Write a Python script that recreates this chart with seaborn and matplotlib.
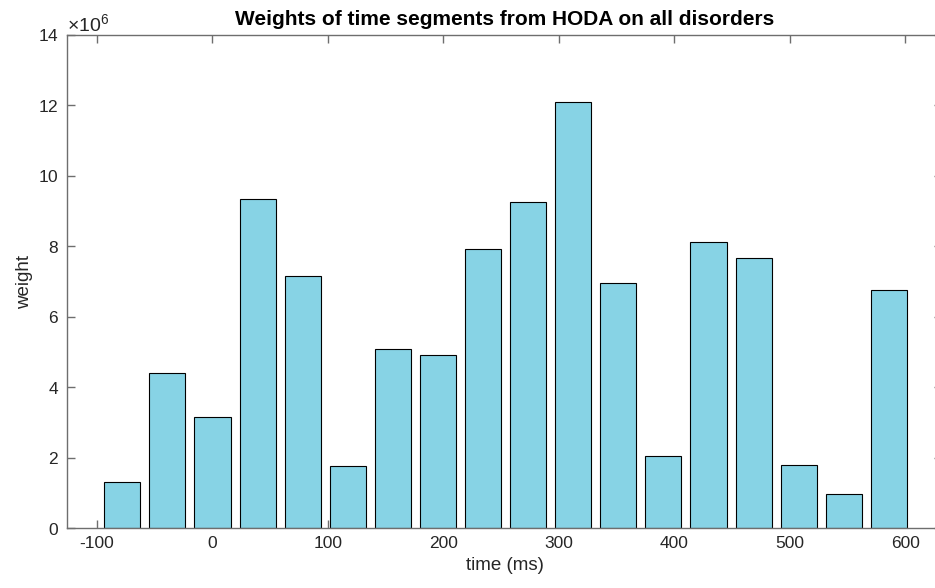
import numpy as np
import pandas as pd
import matplotlib
matplotlib.use("Agg")
import matplotlib.pyplot as plt
from matplotlib.ticker import ScalarFormatter
import seaborn as sns

# Segment centres (ms) and HODA weights for each time segment
segment_ms = [-78.125, -39.0625, 0.0, 39.0625, 78.125, 117.1875, 156.25, 195.3125,
              234.375, 273.4375, 312.5, 351.5625, 390.625, 429.6875, 468.75,
              507.8125, 546.875, 585.9375]
weights = [1.31e6, 4.40e6, 3.15e6, 9.33e6, 7.15e6, 1.76e6, 5.09e6, 4.91e6,
           7.93e6, 9.25e6, 12.10e6, 6.96e6, 2.05e6, 8.11e6, 7.67e6,
           1.79e6, 0.97e6, 6.76e6]
x_ticks = [-100, 0, 100, 200, 300, 400, 500, 600]
y_ticks = [0, 2e6, 4e6, 6e6, 8e6, 10e6, 12e6, 14e6]

df = pd.DataFrame({"time": segment_ms, "weight": weights})

sns.set_style("ticks")
plt.rcParams["font.family"] = ["Liberation Sans", "DejaVu Sans"]
plt.rcParams["mathtext.fontset"] = "custom"
plt.rcParams["mathtext.rm"] = "Liberation Sans"
plt.rcParams["axes.unicode_minus"] = False

fig = plt.figure(figsize=(9.35, 5.88), dpi=100)
ax = fig.add_axes([0.0717, 0.102, 0.9358, 0.8385])

sns.barplot(data=df, x="time", y="weight", native_scale=True, width=0.8,
            color="#87d3e5", saturation=1, edgecolor="black", linewidth=0.8,
            errorbar=None, ax=ax)

ax.set_xlim(-126, 632)
ax.set_ylim(0, 14e6)
ax.set_xticks(x_ticks)
ax.set_yticks(y_ticks)

# weights are shown in units of 10^6
fmt = ScalarFormatter(useMathText=True)
fmt.set_powerlimits((6, 6))
ax.yaxis.set_major_formatter(fmt)
ax.yaxis.get_offset_text().set_fontsize(14)
ax.yaxis.get_offset_text().set_color("#262626")

axis_grey = "#6e6e6e"
for side in ["left", "right", "top", "bottom"]:
    ax.spines[side].set_visible(True)
    ax.spines[side].set_color(axis_grey)
    ax.spines[side].set_linewidth(1.0)

ax.tick_params(direction="in", top=True, right=True, length=6, width=1.0,
               color=axis_grey, labelsize=12.5, labelcolor="#262626", pad=6)

ax.set_xlabel("time (ms)", fontsize=13.5, color="#262626", labelpad=4)
ax.set_ylabel("weight", fontsize=13.5, color="#262626", labelpad=3.5)
ax.set_title("Weights of time segments from HODA on all disorders",
             fontsize=15, fontweight="bold", color="black", pad=7)

fig.savefig("out.png", dpi=100)
